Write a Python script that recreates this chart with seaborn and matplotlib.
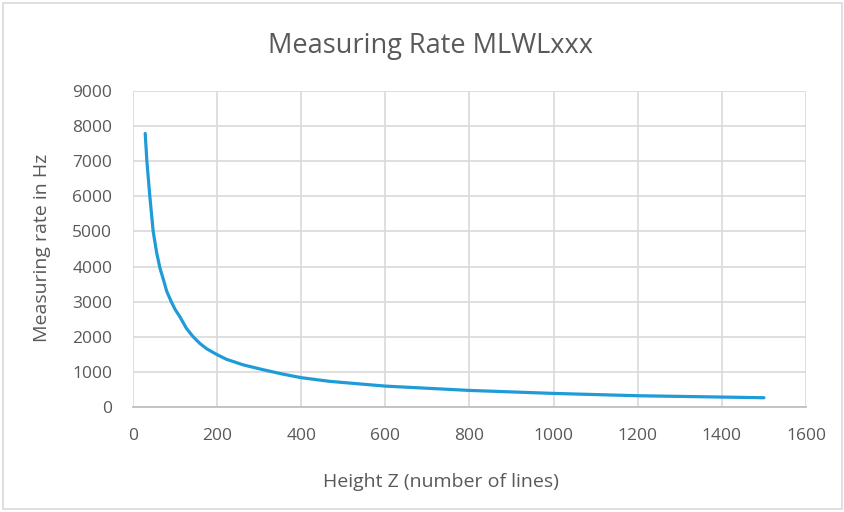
import matplotlib
matplotlib.use("Agg")
import matplotlib.pyplot as plt
from matplotlib.patches import Rectangle
import pandas as pd
import seaborn as sns

# Values
height_z = [29, 33, 40, 48, 56, 64, 73, 80, 91, 100, 111, 127, 143, 159, 175, 200, 222, 262,
            310, 357, 400, 468, 600, 800, 1000, 1200, 1400, 1500]
rate_hz = [7790, 7000, 6000, 5000, 4410, 3960, 3600, 3300, 3000, 2780, 2580, 2240, 2000, 1810,
           1660, 1490, 1360, 1200, 1060, 935, 835, 730, 595, 472, 387, 321, 283, 264]

x_ticks = [0, 200, 400, 600, 800, 1000, 1200, 1400, 1600]
y_ticks = [0, 1000, 2000, 3000, 4000, 5000, 6000, 7000, 8000, 9000]

df = pd.DataFrame({"Height Z": height_z, "Rate": rate_hz})

sns.set_style("white")
plt.rcParams['font.family'] = ['Open Sans', 'DejaVu Sans']

text_gray = "#595959"
grid_gray = "#d9d9d9"

fig = plt.figure(figsize=(8.45, 5.12), dpi=100)
ax = fig.add_axes([133 / 845, 1 - 407 / 512, (806 - 133) / 845, (407 - 91) / 512])

sns.lineplot(data=df, x="Height Z", y="Rate", ax=ax, color="#1f9bd8", linewidth=2.3)

ax.set_xlim(0, 1600)
ax.set_ylim(0, 9000)
ax.set_xticks(x_ticks)
ax.set_yticks(y_ticks)
ax.grid(True, color=grid_gray, linewidth=1.2)
ax.set_axisbelow(True)

for side in ["top", "right", "left"]:
    ax.spines[side].set_visible(False)
ax.spines["bottom"].set_color("#bfbfbf")
ax.spines["bottom"].set_linewidth(1.3)

ax.tick_params(axis="x", length=0, pad=15, labelsize=12.5, labelcolor=text_gray)
ax.tick_params(axis="y", length=0, pad=15, labelsize=12.5, labelcolor=text_gray)

ax.set_xlabel("Height Z (number of lines)", fontsize=14, color=text_gray, va="baseline")
ax.xaxis.set_label_coords(0.4577, -0.253)
ax.set_ylabel("Measuring rate in Hz", fontsize=14, color=text_gray, va="baseline")
ax.yaxis.set_label_coords(-0.128, 0.503)

fig.text(0.510, 0.8965, "Measuring Rate MLWLxxx", ha="center", va="baseline",
         fontsize=19.5, color=text_gray)

# light border around the chart area
fig.patches.append(Rectangle((3 / 845, 3 / 512), 839 / 845, 506 / 512,
                             transform=fig.transFigure, fill=False,
                             edgecolor="#d9d9d9", linewidth=1.2))

fig.savefig("out.png", dpi=100)
